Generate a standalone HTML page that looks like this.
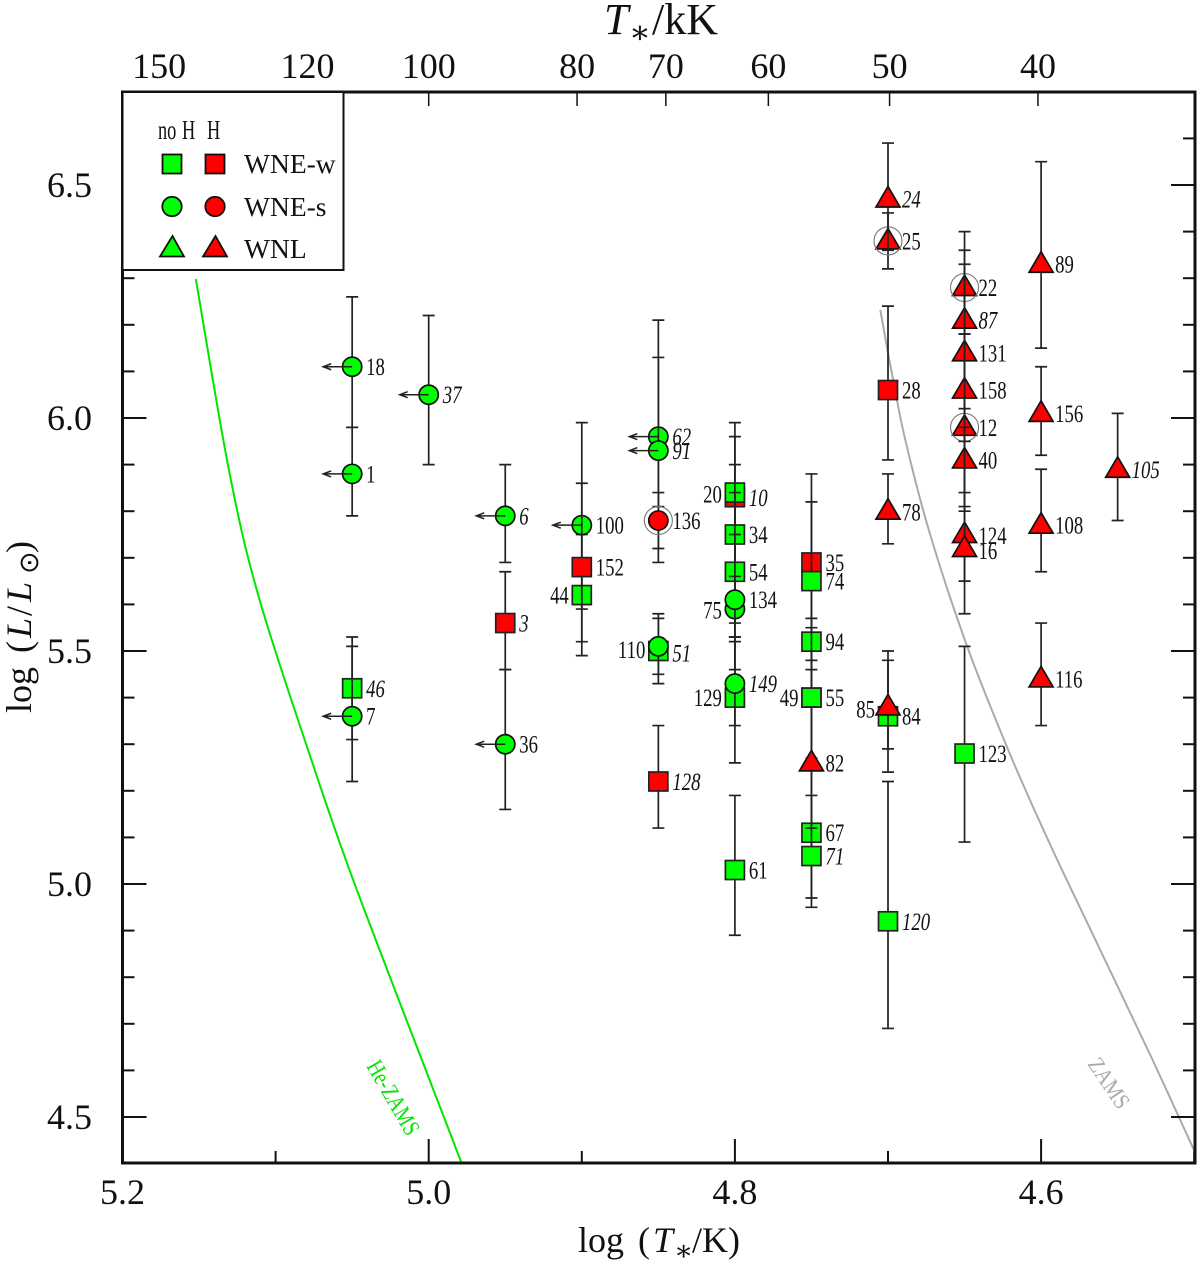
<!DOCTYPE html>
<html lang="en">
<head>
<meta charset="utf-8">
<title>HR diagram of WN stars</title>
<style>
html,body{margin:0;padding:0;background:#fff;}
svg{display:block;font-family:"Liberation Serif","DejaVu Serif",serif;}
</style>
</head>
<body>
<svg id="chart" xmlns="http://www.w3.org/2000/svg" width="1200" height="1265" viewBox="0 0 1200 1265">
  <defs>
    <clipPath id="plot-clip"><rect x="122.5" y="92" width="1072.5" height="1071"/></clipPath>
  </defs>
  <rect x="0" y="0" width="1200" height="1265" fill="#fff"/>
  <g id="curves" clip-path="url(#plot-clip)"></g>
  <g id="ticks"></g>
  <g id="tick-labels" font-size="36" fill="#111"></g>
  <g id="stars"></g>
  <g id="star-labels" font-size="25" fill="#111"></g>

  <text transform="translate(366,1066) rotate(60) scale(.8,1)" font-size="24" fill="#00e600">He-ZAMS</text>
  <text transform="translate(1087,1064) rotate(56) scale(.88,1)" font-size="23" fill="#aaa">ZAMS</text>

  <rect x="122.5" y="92" width="1072.5" height="1071" fill="none" stroke="#111" stroke-width="3"/>

  <g>
    <rect x="122.5" y="92" width="221" height="178" fill="#fff" stroke="#111" stroke-width="2"/>
    <text transform="translate(158,139) scale(.68,1)" font-size="27" fill="#111">no</text>
    <text transform="translate(182,139) scale(.68,1)" font-size="27" fill="#111">H</text>
    <text transform="translate(207,139) scale(.68,1)" font-size="27" fill="#111">H</text>
    <rect x="162.5" y="154.5" width="19" height="19" fill="#00ff00" stroke="#111" stroke-width="1.8"/>
    <rect x="205.5" y="154.5" width="19" height="19" fill="#ff0000" stroke="#111" stroke-width="1.8"/>
    <text x="244" y="173" font-size="27.5" fill="#111">WNE-w</text>
    <circle cx="172" cy="206.5" r="9.7" fill="#00ff00" stroke="#111" stroke-width="1.8"/>
    <circle cx="215" cy="206.5" r="9.7" fill="#ff0000" stroke="#111" stroke-width="1.8"/>
    <text x="244" y="216" font-size="27.5" fill="#111">WNE-s</text>
    <polygon points="172.5,236 160,256.5 184,256.5" fill="#00ff00" stroke="#111" stroke-width="1.8"/>
    <polygon points="215.5,236 203,256.5 227,256.5" fill="#ff0000" stroke="#111" stroke-width="1.8"/>
    <text x="244" y="258" font-size="27.5" fill="#111">WNL</text>
  </g>

  <text y="34" font-size="44" fill="#111"><tspan x="604" font-style="italic">T</tspan><tspan x="629" dy="9" font-size="32">∗</tspan><tspan x="652" dy="-9">/kK</tspan></text>
  <text y="1252" font-size="36" fill="#111"><tspan x="578">log</tspan><tspan x="638">(</tspan><tspan x="653" font-style="italic">T</tspan><tspan x="674" dy="8" font-size="28">∗</tspan><tspan x="692" dy="-8">/K)</tspan></text>
  <text transform="translate(31,713) rotate(-90)" font-size="36" fill="#111"><tspan x="0">log</tspan><tspan x="60">(</tspan><tspan x="75" font-style="italic">L</tspan><tspan x="97">/</tspan><tspan x="111" font-style="italic">L</tspan><tspan x="139" dy="7" font-size="27" font-family="'DejaVu Sans',sans-serif">⊙</tspan><tspan x="160" dy="-7">)</tspan></text>
</svg>

<script>
// ---- axis tick data ----
const xMajorTicks = [5.2, 5.0, 4.8, 4.6];
const xMinorTicks = [5.1, 4.9, 4.7, 4.5];
const xTickLabels = ['5.2', '5.0', '4.8', '4.6'];
const yMajorTicks = [6.5, 6.0, 5.5, 5.0, 4.5];
const yMinorTicks = [6.6, 6.4, 6.3, 6.2, 6.1, 5.9, 5.8, 5.7, 5.6, 5.4, 5.3, 5.2, 5.1, 4.9, 4.8, 4.7, 4.6];
const yTickLabels = ['6.5', '6.0', '5.5', '5.0', '4.5'];
const topTicksKK = [150, 120, 100, 80, 70, 60, 50, 40];

// ---- reference curves ----
const heZamsLogT = [5.1521, 5.1300, 5.1104, 5.0758, 5.0536, 5.0320, 5.0105, 4.9785];
const heZamsLogL = [6.298, 5.880, 5.609, 5.258, 5.047, 4.858, 4.674, 4.401];
const zamsLogT = [4.7050, 4.6985, 4.6887, 4.6724, 4.6482, 4.6201, 4.5940, 4.5613, 4.5287, 4.4993];
const zamsLogL = [6.232, 6.114, 5.953, 5.749, 5.509, 5.277, 5.084, 4.858, 4.633, 4.423];

// ---- stars (parallel arrays, draw order) ----
const starIds = [
  '18','1','46','7',
  '37',
  '6','3','36',
  '44','100','152',
  '62','91','136','51','110','128',
  '20','10','34','54','75','134','129','149','61',
  '35','74','94','49','55','67','82','71',
  '25','24','28','78','84','85','120',
  '22','87','131','158','12','40','124','16','123',
  '89','156','108','116',
  '105'
];
const starLogT = [
  5.05,5.05,5.05,5.05,
  5.00,
  4.95,4.95,4.95,
  4.90,4.90,4.90,
  4.85,4.85,4.85,4.85,4.85,4.85,
  4.80,4.80,4.80,4.80,4.80,4.80,4.80,4.80,4.80,
  4.75,4.75,4.75,4.75,4.75,4.75,4.75,4.75,
  4.70,4.70,4.70,4.70,4.70,4.70,4.70,
  4.65,4.65,4.65,4.65,4.65,4.65,4.65,4.65,4.65,
  4.60,4.60,4.60,4.60,
  4.55
];
const starLogL = [
  6.11,5.88,5.42,5.36,
  6.05,
  5.79,5.56,5.30,
  5.62,5.77,5.68,
  5.96,5.93,5.78,5.50,5.51,5.22,
  5.83,5.84,5.75,5.67,5.59,5.61,5.40,5.43,5.03,
  5.69,5.65,5.52,5.40,5.40,5.11,5.26,5.06,
  6.38,6.47,6.06,5.80,5.36,5.38,4.92,
  6.28,6.21,6.14,6.06,5.98,5.91,5.75,5.72,5.28,
  6.33,6.01,5.77,5.44,
  5.89
];
const starHi = [
  6.26,5.98,5.53,5.51,
  6.22,
  5.90,5.67,5.46,
  5.75,5.99,5.86,
  6.21,6.13,5.84,5.58,5.57,5.34,
  5.99,5.96,5.90,5.84,5.66,5.75,5.52,5.53,5.19,
  5.88,5.82,5.57,5.55,5.48,5.26,5.38,5.19,
  6.44,6.59,6.24,5.88,5.48,5.50,5.22,
  6.40,6.36,6.33,6.18,6.18,5.98,6.02,5.95,5.51,
  6.55,6.11,5.89,5.56,
  6.01
];
const starLo = [
  5.98,5.79,5.31,5.22,
  5.90,
  5.69,5.46,5.16,
  5.49,5.59,5.52,
  5.81,5.72,5.69,5.43,5.45,5.12,
  5.66,5.75,5.56,5.53,5.52,5.46,5.26,5.34,4.89,
  5.48,5.46,5.40,5.26,5.27,4.97,5.12,4.95,
  6.32,6.36,5.91,5.73,5.24,5.29,4.69,
  6.18,6.02,5.95,5.84,5.81,5.80,5.65,5.58,5.09,
  6.15,5.92,5.67,5.34,
  5.78
];
const starShape = [
  'c','c','s','c',
  'c',
  'c','s','c',
  's','c','s',
  'c','c','c','s','c','s',
  's','s','s','s','c','c','s','c','s',
  's','s','s','s','s','s','t','s',
  't','t','s','t','s','t','s',
  't','t','t','t','t','t','t','t','s',
  't','t','t','t',
  't'
];
const starHasH = [
  0,0,0,0,
  0,
  0,1,0,
  0,0,1,
  0,0,1,0,0,1,
  1,0,0,0,0,0,0,0,0,
  1,0,0,0,0,0,1,0,
  1,1,1,1,0,1,0,
  1,1,1,1,1,1,1,1,0,
  1,1,1,1,
  1
];
const starItalic = ['46','37','6','3','62','91','51','128','10','149','71','24','120','87','105'];
const starUpperLimit = ['18','1','7','37','6','36','100','62','91'];
const starRinged = ['136','25','22','12'];

// ---- label layout (style, not data) ----
const labelOnLeft = ['20','44','75','110','129','49','85'];
const labelNudgeY = {'10':5,'20':-3,'110':3,'51':2,'75':1,'85':2,'124':1,'16':2,'78':1};

// ---- axis functions ----
function xScale(logT){ return 122.5 + (5.2 - logT) * 1531; }
function yScale(logL){ return 185 + (6.5 - logL) * 466; }

const SVGNS = 'http://www.w3.org/2000/svg';
function mk(tag, attrs, parent){
  const el = document.createElementNS(SVGNS, tag);
  for (const k in attrs) el.setAttribute(k, attrs[k]);
  parent.appendChild(el);
  return el;
}
function tickLine(parent, x1, y1, x2, y2, w){
  return mk('line', {x1:x1, y1:y1, x2:x2, y2:y2, stroke:'#111', 'stroke-width':w}, parent);
}
function smoothPath(xs, ys){
  let d = 'M' + xs[0].toFixed(1) + ' ' + ys[0].toFixed(1);
  for (let i = 0; i < xs.length - 1; i++){
    const x0 = xs[Math.max(i-1,0)], y0 = ys[Math.max(i-1,0)];
    const x1 = xs[i], y1 = ys[i], x2 = xs[i+1], y2 = ys[i+1];
    const x3 = xs[Math.min(i+2,xs.length-1)], y3 = ys[Math.min(i+2,xs.length-1)];
    d += ' C' + (x1+(x2-x0)/6).toFixed(1) + ' ' + (y1+(y2-y0)/6).toFixed(1) + ' ' +
         (x2-(x3-x1)/6).toFixed(1) + ' ' + (y2-(y3-y1)/6).toFixed(1) + ' ' +
         x2.toFixed(1) + ' ' + y2.toFixed(1);
  }
  return d;
}

// ---- curves ----
const curvesG = document.getElementById('curves');
const heCurve = mk('path', {d:smoothPath(heZamsLogT.map(xScale), heZamsLogL.map(yScale)), fill:'none', stroke:'#00e600', 'stroke-width':2}, curvesG);


const zamsCurve = mk('path', {d:smoothPath(zamsLogT.map(xScale), zamsLogL.map(yScale)), fill:'none', stroke:'#aaa', 'stroke-width':2}, curvesG);



// ---- ticks ----
const ticksG = document.getElementById('ticks');
const labelsG = document.getElementById('tick-labels');
const plotTop = 92, plotBottom = 1163, plotLeft = 122.5, plotRight = 1195;

xMajorTicks.forEach(function(v, i){
  const x = xScale(v);
  const t = tickLine(ticksG, x, plotBottom, x, plotBottom - 24, 2);
  
  
  const lab = mk('text', {x:x, y:1204, 'text-anchor':'middle'}, labelsG);
  lab.textContent = xTickLabels[i];
  
  
});
xMinorTicks.forEach(function(v){
  const x = xScale(v);
  const t = tickLine(ticksG, x, plotBottom, x, plotBottom - 12, 2);
  
  
});
yMajorTicks.forEach(function(v, i){
  const y = yScale(v);
  const l = tickLine(ticksG, plotLeft, y, plotLeft + 24, y, 2);
  
  
  const r = tickLine(ticksG, plotRight, y, plotRight - 24, y, 2);
  
  
  const lab = mk('text', {x:92, y:y + 12, 'text-anchor':'end'}, labelsG);
  lab.textContent = yTickLabels[i];
  
  
});
yMinorTicks.forEach(function(v){
  const y = yScale(v);
  const l = tickLine(ticksG, plotLeft, y, plotLeft + 12, y, 2);
  
  
  const r = tickLine(ticksG, plotRight, y, plotRight - 12, y, 2);
  
  
});
topTicksKK.forEach(function(t){
  const x = xScale(Math.log10(t * 1000));
  const line = tickLine(ticksG, x, plotTop, x, plotTop + 14, 1.5);
  
  
  const lab = mk('text', {x:x, y:78, 'text-anchor':'middle'}, labelsG);
  lab.textContent = String(t);
  
  
});

// ---- stars ----
const starsG = document.getElementById('stars');
const starLabelsG = document.getElementById('star-labels');
starIds.forEach(function(id, i){
  const x = xScale(starLogT[i]);
  const y = yScale(starLogL[i]);
  const yHi = yScale(starHi[i]);
  const yLo = yScale(starLo[i]);
  const fill = starHasH[i] ? '#ff0000' : '#00ff00';

  const g = mk('g', {}, starsG);
  
  

  const bar = mk('path', {
    d:'M' + x + ' ' + yHi + 'V' + yLo + 'M' + (x-6) + ' ' + yHi + 'H' + (x+6) + 'M' + (x-6) + ' ' + yLo + 'H' + (x+6),
    fill:'none', stroke:'#222', 'stroke-width':1.7
  }, g);
  
  

  let marker;
  if (starShape[i] === 's'){
    marker = mk('rect', {x:x-9.5, y:y-9.5, width:19, height:19, fill:fill, stroke:'#222', 'stroke-width':1.7}, g);
  } else if (starShape[i] === 'c'){
    marker = mk('circle', {cx:x, cy:y, r:9.6, fill:fill, stroke:'#111', 'stroke-width':1.7}, g);
  } else {
    marker = mk('polygon', {points:x + ',' + (y-12.5) + ' ' + (x-12) + ',' + (y+8) + ' ' + (x+12) + ',' + (y+8), fill:fill, stroke:'#111', 'stroke-width':1.7}, g);
  }
  
  

  if (starUpperLimit.indexOf(id) >= 0){
    const arrow = mk('path', {
      d:'M' + x + ' ' + y + 'H' + (x-29) + 'M' + (x-21) + ' ' + (y-3) + 'L' + (x-29) + ' ' + y + 'L' + (x-21) + ' ' + (y+3),
      fill:'none', stroke:'#222', 'stroke-width':1.5
    }, g);
    
    
  }
  if (starRinged.indexOf(id) >= 0){
    const ring = mk('circle', {cx:x, cy:y, r:14, fill:'none', stroke:'#777', 'stroke-width':1.1}, g);
    
    
  }

  const left = labelOnLeft.indexOf(id) >= 0;
  const nudge = labelNudgeY[id] || 0;
  const lx = left ? x - 13 : x + 14;
  const label = mk('text', {
    transform:'translate(' + lx + ',' + (y + 8.5 + nudge) + ') scale(.75,1)',
    'text-anchor': left ? 'end' : 'start',
    'font-style': starItalic.indexOf(id) >= 0 ? 'italic' : 'normal'
  }, starLabelsG);
  label.textContent = id;
  
  
});
</script>
</body>
</html>
